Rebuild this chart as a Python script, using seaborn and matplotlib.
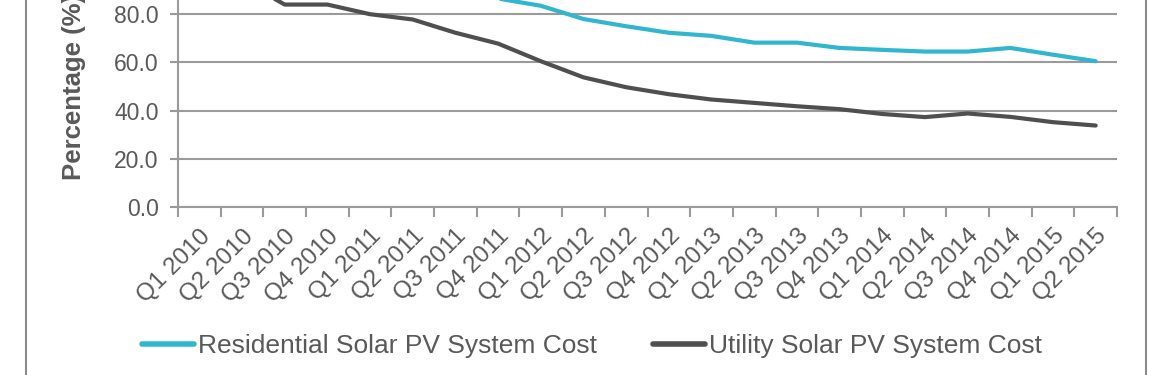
import pandas as pd
import matplotlib.pyplot as plt
import seaborn as sns
from matplotlib.lines import Line2D
from matplotlib.ticker import FixedLocator

quarters = ['Q1 2010', 'Q2 2010', 'Q3 2010', 'Q4 2010', 'Q1 2011', 'Q2 2011',
            'Q3 2011', 'Q4 2011', 'Q1 2012', 'Q2 2012', 'Q3 2012', 'Q4 2012',
            'Q1 2013', 'Q2 2013', 'Q3 2013', 'Q4 2013', 'Q1 2014', 'Q2 2014',
            'Q3 2014', 'Q4 2014', 'Q1 2015', 'Q2 2015']
residential = [100.0, 98.5, 97.0, 96.0, 95.0, 93.0, 90.0, 86.5, 83.5, 78.0, 75.0,
               72.3, 71.0, 68.2, 68.2, 66.0, 65.2, 64.5, 64.5, 66.0, 63.2, 60.5]
utility = [100.0, 94.0, 84.0, 84.0, 80.0, 77.8, 72.3, 67.8, 60.5, 53.8, 49.7,
           46.8, 44.6, 43.2, 41.8, 40.6, 38.6, 37.3, 38.8, 37.4, 35.2, 33.8]
series_names = ['Residential Solar PV System Cost', 'Utility Solar PV System Cost']

df = pd.DataFrame({
    'Quarter': quarters * 2,
    'Percentage': residential + utility,
    'Series': [series_names[0]] * len(quarters) + [series_names[1]] * len(quarters),
})

sns.set_style('white')
plt.rcParams['font.family'] = ['Liberation Sans', 'DejaVu Sans']

text_color = '#595959'
grid_color = '#9a9a9a'

fig = plt.figure(figsize=(11.75, 3.75), dpi=100)
ax = fig.add_axes([178 / 1175, 168 / 375, 939 / 1175, 241 / 375])

sns.lineplot(data=df, x='Quarter', y='Percentage', hue='Series',
             palette=['#30B6CD', '#4F4F4F'], linewidth=3.0, sort=False,
             legend=False, ax=ax)

ax.set_ylim(0, 100)
ax.set_xlim(-0.5, len(quarters) - 0.5)
ax.set_yticks([0, 20, 40, 60, 80])
ax.set_yticklabels(['0.0', '20.0', '40.0', '60.0', '80.0'])
ax.axhline(100, color=grid_color, linewidth=1.5, zorder=0)
ax.yaxis.grid(True, color=grid_color, linewidth=1.5)
ax.set_axisbelow(True)

ax.set_xticks(range(len(quarters)))
ax.set_xticklabels(quarters, rotation=45, ha='right', va='top',
                   rotation_mode='anchor')
ax.xaxis.set_minor_locator(FixedLocator([i - 0.5 for i in range(len(quarters) + 1)]))
ax.tick_params(axis='x', which='major', length=0, pad=13, labelsize=17.5,
               labelcolor=text_color)
ax.tick_params(axis='x', which='minor', length=7, width=1.5, color=grid_color,
               bottom=True)
ax.tick_params(axis='y', length=6, width=1.5, color=grid_color, left=True,
               labelsize=16.5, labelcolor=text_color, pad=8)

for side in ['top', 'right']:
    ax.spines[side].set_visible(False)
for side in ['left', 'bottom']:
    ax.spines[side].set_color(grid_color)
    ax.spines[side].set_linewidth(1.5)

ax.set_xlabel('')
ax.set_ylabel('Percentage (%)', fontsize=18.5, fontweight='bold',
              color=text_color, labelpad=20)

handles = [Line2D([], [], color='#30B6CD', linewidth=4),
           Line2D([], [], color='#4F4F4F', linewidth=4)]
fig.legend(handles, series_names, loc='center', bbox_to_anchor=(592 / 1175, 0.078),
           ncol=2, frameon=False, fontsize=19, handlelength=2.0,
           handletextpad=0.15, columnspacing=2.1, labelcolor=text_color)

for x in [26, 1146]:
    fig.add_artist(Line2D([x / 1175, x / 1175], [0, 1], color='#8c8c8c',
                          linewidth=1.5, transform=fig.transFigure))

fig.savefig('out.png', dpi=100)
